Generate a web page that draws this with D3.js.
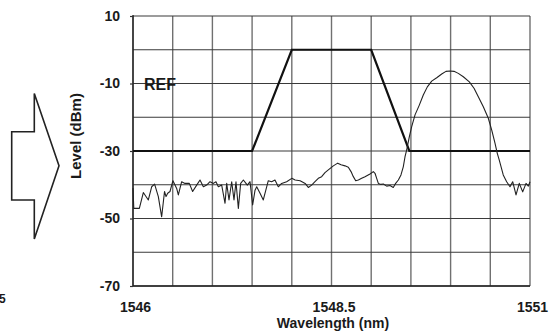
<!DOCTYPE html>
<html>
<head>
<meta charset="utf-8">
<script src="https://cdn.jsdelivr.net/npm/d3@7"></script>
<style>
  html, body { margin: 0; padding: 0; background: #fff; }
  svg { display: block; }
  text { font-family: "Liberation Sans", Arial, Helvetica, sans-serif; font-weight: bold; fill: #1a1a1a; }
</style>
</head>
<body>
<svg id="chart" width="553" height="334"></svg>
<script>
// ---- data ----
const xTickValues = [1546, 1548.5, 1551];
const yTickValues = [10, -10, -30, -50, -70];
const xGridValues = [1546, 1546.5, 1547, 1547.5, 1548, 1548.5, 1549, 1549.5, 1550, 1550.5, 1551];
const yGridValues = [10, 0, -10, -20, -30, -40, -50, -60, -70];

// filter (reference) mask, thick line
const filterWavelength = [1546, 1547.5, 1548.0, 1549.0, 1549.48, 1551];
const filterLevel      = [-30,  -30,    0,      0,      -30,     -30];

// measured spectrum trace
const traceWavelength = [
  1546.000, 1546.010, 1546.080, 1546.130, 1546.193, 1546.235, 1546.272, 1546.319, 1546.361, 1546.397,
  1546.416, 1546.437, 1546.466, 1546.503, 1546.550, 1546.571, 1546.613, 1546.655, 1546.709, 1546.751,
  1546.802, 1546.844, 1546.886, 1546.928, 1546.970, 1547.012, 1547.045, 1547.075, 1547.117, 1547.159,
  1547.180, 1547.209, 1547.243, 1547.272, 1547.297, 1547.327, 1547.356, 1547.390, 1547.423, 1547.440,
  1547.474, 1547.507, 1547.537, 1547.558, 1547.600, 1547.641, 1547.704, 1547.746, 1547.788, 1547.830,
  1547.872, 1547.935, 1548.000, 1548.042, 1548.105, 1548.168, 1548.208, 1548.250, 1548.292, 1548.334,
  1548.376, 1548.418, 1548.460, 1548.523, 1548.578, 1548.620, 1548.670, 1548.712, 1548.746, 1548.775,
  1548.805, 1548.838, 1548.880, 1548.922, 1548.985, 1549.027, 1549.048, 1549.069, 1549.090, 1549.123,
  1549.153, 1549.195, 1549.237, 1549.278, 1549.308, 1549.342, 1549.375, 1549.404, 1549.426, 1549.447,
  1549.480, 1549.510, 1549.552, 1549.606, 1549.656, 1549.707, 1549.762, 1549.825, 1549.888, 1549.942,
  1549.992, 1550.043, 1550.097, 1550.160, 1550.236, 1550.295, 1550.349, 1550.412, 1550.475, 1550.518,
  1550.559, 1550.588, 1550.613, 1550.663, 1550.706, 1550.748, 1550.782, 1550.824, 1550.865, 1550.908,
  1550.950, 1550.979, 1551.000
];
const traceLevel = [
  -41.0, -47.0, -47.0, -42.3, -44.5, -40.6, -39.8, -43.5, -49.5, -42.0,
  -43.5, -42.5, -42.0, -38.8, -41.1, -43.0, -39.1, -39.6, -39.6, -42.0,
  -40.1, -38.6, -40.6, -40.1, -39.1, -39.6, -39.1, -40.6, -40.1, -45.5,
  -39.6, -44.5, -39.1, -44.5, -39.1, -47.0, -39.6, -38.6, -39.6, -40.1,
  -39.1, -46.0, -41.6, -40.6, -42.5, -44.5, -38.8, -39.1, -38.6, -40.6,
  -39.6, -39.1, -38.1, -38.6, -38.8, -39.6, -40.8, -40.1, -39.1, -38.1,
  -37.6, -36.4, -35.6, -34.4, -33.6, -34.1, -34.4, -34.8, -36.1, -37.6,
  -38.8, -38.6, -38.1, -37.6, -36.8, -36.1, -36.6, -38.1, -39.6, -39.9,
  -39.8, -40.4, -40.2, -40.8, -39.6, -38.6, -37.1, -34.7, -31.7, -29.7,
  -25.8, -22.8, -19.3, -16.4, -13.4, -11.0, -9.3, -8.3, -7.2, -6.4,
  -6.3, -6.4, -7.0, -8.0, -9.5, -11.4, -13.9, -16.9, -20.3, -23.8,
  -27.7, -30.7, -32.7, -37.1, -39.1, -40.6, -39.1, -43.0, -39.6, -42.1,
  -39.6, -40.4, -39.1
];

// ---- drawing ----
const svg = d3.select("#chart");
const x = d3.scaleLinear().domain([1546, 1551]).range([133, 530]);
const y = d3.scaleLinear().domain([-70, 10]).range([286, 16]);

// left block arrow (decorative)
svg.append("polygon")
  .attr("points", [[11.7,131.7],[34.3,131.7],[34.3,93.5],[59,165.7],[34.3,239],[34.3,200],[11.7,200]].map(p => p.join(",")).join(" "))
  .attr("fill", "#fff").attr("stroke", "#222").attr("stroke-width", 1.6).attr("stroke-linejoin", "miter");

// cropped label at bottom-left
svg.append("text").attr("x", -1).attr("y", 303).attr("font-size", 12).text("5");

// grid
const grid = svg.append("g");
grid.selectAll("line.v").data(xGridValues).join("line")
  .attr("class", "v")
  .attr("x1", d => x(d)).attr("x2", d => x(d))
  .attr("y1", y(10)).attr("y2", y(-70))
  .attr("stroke", "#707070").attr("stroke-width", 1.4);
grid.selectAll("line.h").data(yGridValues).join("line")
  .attr("class", "h")
  .attr("x1", x(1546)).attr("x2", x(1551))
  .attr("y1", d => y(d)).attr("y2", d => y(d))
  .attr("stroke", "#3a3a3a").attr("stroke-width", 1.2);
// frame emphasis (left and bottom)
svg.append("line").attr("x1", x(1546)).attr("x2", x(1546)).attr("y1", y(10) - 1).attr("y2", y(-70))
  .attr("stroke", "#222").attr("stroke-width", 1.4);
svg.append("line").attr("x1", x(1546)).attr("x2", x(1551)).attr("y1", y(-70)).attr("y2", y(-70))
  .attr("stroke", "#222").attr("stroke-width", 1.4);

// y axis ticks and labels
const yAxis = d3.axisLeft(y).tickValues(yTickValues).tickSize(3).tickPadding(10).tickFormat(d => String(d));
const gy = svg.append("g").attr("transform", `translate(${x(1546)},0)`).call(yAxis);
gy.select(".domain").remove();
gy.selectAll(".tick line").attr("stroke", "#333").attr("stroke-width", 1.2);
gy.selectAll(".tick text").attr("font-size", 14).attr("fill", "#1a1a1a")
  .attr("font-family", "'Liberation Sans', Arial, sans-serif").attr("font-weight", "bold");

// x axis labels
const xAxis = d3.axisBottom(x).tickValues(xTickValues).tickSize(0).tickPadding(16).tickFormat(d => String(d));
const gx = svg.append("g").attr("transform", `translate(2,${y(-70)})`).call(xAxis);
gx.select(".domain").remove();
gx.selectAll(".tick text").attr("font-size", 14).attr("fill", "#1a1a1a")
  .attr("font-family", "'Liberation Sans', Arial, sans-serif").attr("font-weight", "bold");

// axis titles
svg.append("text").attr("x", 333).attr("y", 328).attr("text-anchor", "middle")
  .attr("font-size", 14).text("Wavelength (nm)");
svg.append("text").attr("transform", "translate(81,136) rotate(-90)").attr("text-anchor", "middle")
  .attr("font-size", 15).text("Level (dBm)");

// filter mask
const line = d3.line().x(d => x(d[0])).y(d => y(d[1]));
svg.append("path").datum(filterWavelength.map((w, i) => [w, filterLevel[i]]))
  .attr("d", line).attr("fill", "none").attr("stroke", "#111").attr("stroke-width", 2.2)
  .attr("stroke-linejoin", "miter");

// trace
svg.append("path").datum(traceWavelength.map((w, i) => [w, traceLevel[i]]))
  .attr("d", line).attr("fill", "none").attr("stroke", "#222").attr("stroke-width", 1.1)
  .attr("stroke-linejoin", "round");

// REF label
svg.append("text").attr("x", 144).attr("y", y(-10) + 6).attr("font-size", 16).text("REF");
</script>
</body>
</html>
